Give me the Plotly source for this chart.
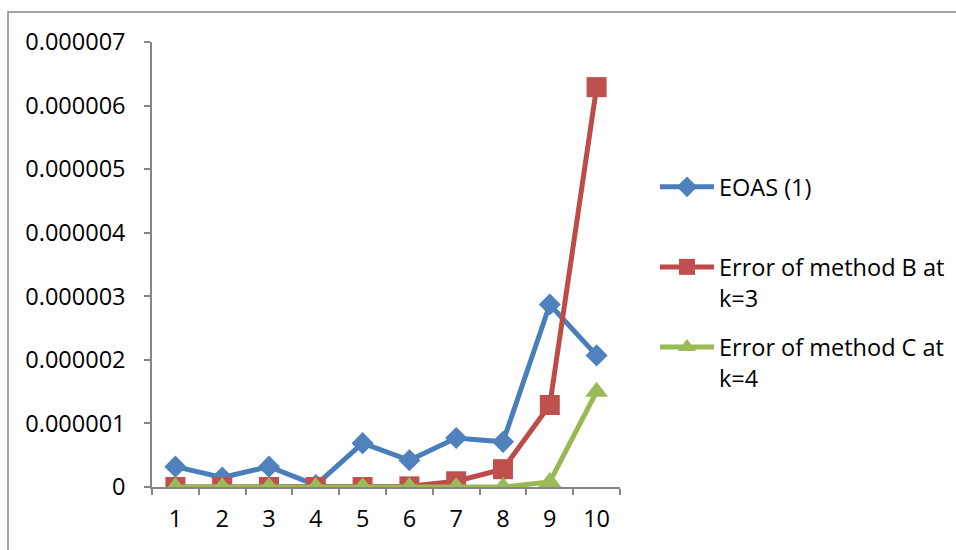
import plotly.graph_objects as go

categories = ["1", "2", "3", "4", "5", "6", "7", "8", "9", "10"]
eoas = [0.32e-6, 0.15e-6, 0.32e-6, 0.03e-6, 0.69e-6, 0.42e-6, 0.77e-6, 0.71e-6, 2.87e-6, 2.07e-6]
method_b = [0.0, 0.0, 0.0, 0.0, 0.0, 0.01e-6, 0.09e-6, 0.28e-6, 1.29e-6, 6.29e-6]
method_c = [0.0, 0.0, 0.0, 0.0, 0.0, 0.0, 0.0, 0.0, 0.08e-6, 1.5e-6]
y_tickvals = [0, 1e-6, 2e-6, 3e-6, 4e-6, 5e-6, 6e-6, 7e-6]
y_ticktext = ["0", "0.000001", "0.000002", "0.000003", "0.000004", "0.000005", "0.000006", "0.000007"]

FONT = "Open Sans"
AXIS_COLOR = "#868686"
FS = 23.5

fig = go.Figure()
fig.add_trace(go.Scatter(
    x=categories, y=eoas, name="EOAS (1)<br> ", mode="lines+markers",
    line=dict(color="#4A7EBB", width=5),
    marker=dict(symbol="diamond", size=17, color="#4F81BD"),
    legendgroup="a"))
fig.add_trace(go.Scatter(
    x=categories, y=method_b, name="Error of method B at<br>k=3", mode="lines+markers",
    line=dict(color="#BE4B48", width=5),
    marker=dict(symbol="square", size=20, color="#C0504D"),
    legendgroup="b"))
fig.add_trace(go.Scatter(
    x=categories, y=method_c, name="Error of method C at<br>k=4", mode="lines+markers",
    line=dict(color="#98B954", width=5),
    marker=dict(symbol="triangle-up", size=20, color="#9BBB59"),
    legendgroup="c"))

L, R, T, B = 152, 336, 42, 63
W, H = 956, 550
pw, ph = W - L - R, H - T - B

def px_x(p):
    return (p - L) / pw

def px_y(p):
    return (H - B - p) / ph

fig.update_layout(
    width=W, height=H,
    margin=dict(l=L, r=R, t=T, b=B, pad=0, autoexpand=False),
    paper_bgcolor="white", plot_bgcolor="white",
    font=dict(family=FONT, size=FS, color="black"),
    showlegend=True,
    legend=dict(
        x=px_x(655), y=px_y(165), xanchor="left", yanchor="top",
        valign="top", itemwidth=54, tracegroupgap=16,
        font=dict(family=FONT, size=FS, color="black"),
        bgcolor="rgba(0,0,0,0)",
    ),
    xaxis=dict(
        type="category", range=[-0.5, 9.5], tickson="boundaries",
        showline=True, linecolor=AXIS_COLOR, linewidth=1.5,
        ticks="outside", ticklen=6, tickcolor=AXIS_COLOR, tickwidth=1.5,
        showgrid=False, zeroline=False, ticklabelstandoff=10,
        tickfont=dict(family=FONT, size=FS, color="black"),
    ),
    yaxis=dict(
        range=[0, 7e-6], tickvals=y_tickvals, ticktext=y_ticktext,
        showline=True, linecolor=AXIS_COLOR, linewidth=1.5,
        ticks="outside", ticklen=6, tickcolor=AXIS_COLOR, tickwidth=1.5,
        showgrid=False, zeroline=False, ticklabelstandoff=14,
        tickfont=dict(family=FONT, size=FS, color="black"),
    ),
    shapes=[dict(
        type="rect", xref="paper", yref="paper",
        x0=px_x(8), y0=px_y(600), x1=px_x(1000), y1=px_y(12),
        line=dict(color=AXIS_COLOR, width=1.5), fillcolor="rgba(0,0,0,0)", layer="below",
    )],
)

fig.write_html(
    "out.html",
    config={"displayModeBar": False},
    post_script="document.body.style.margin='0';document.body.style.overflow='hidden';",
)
